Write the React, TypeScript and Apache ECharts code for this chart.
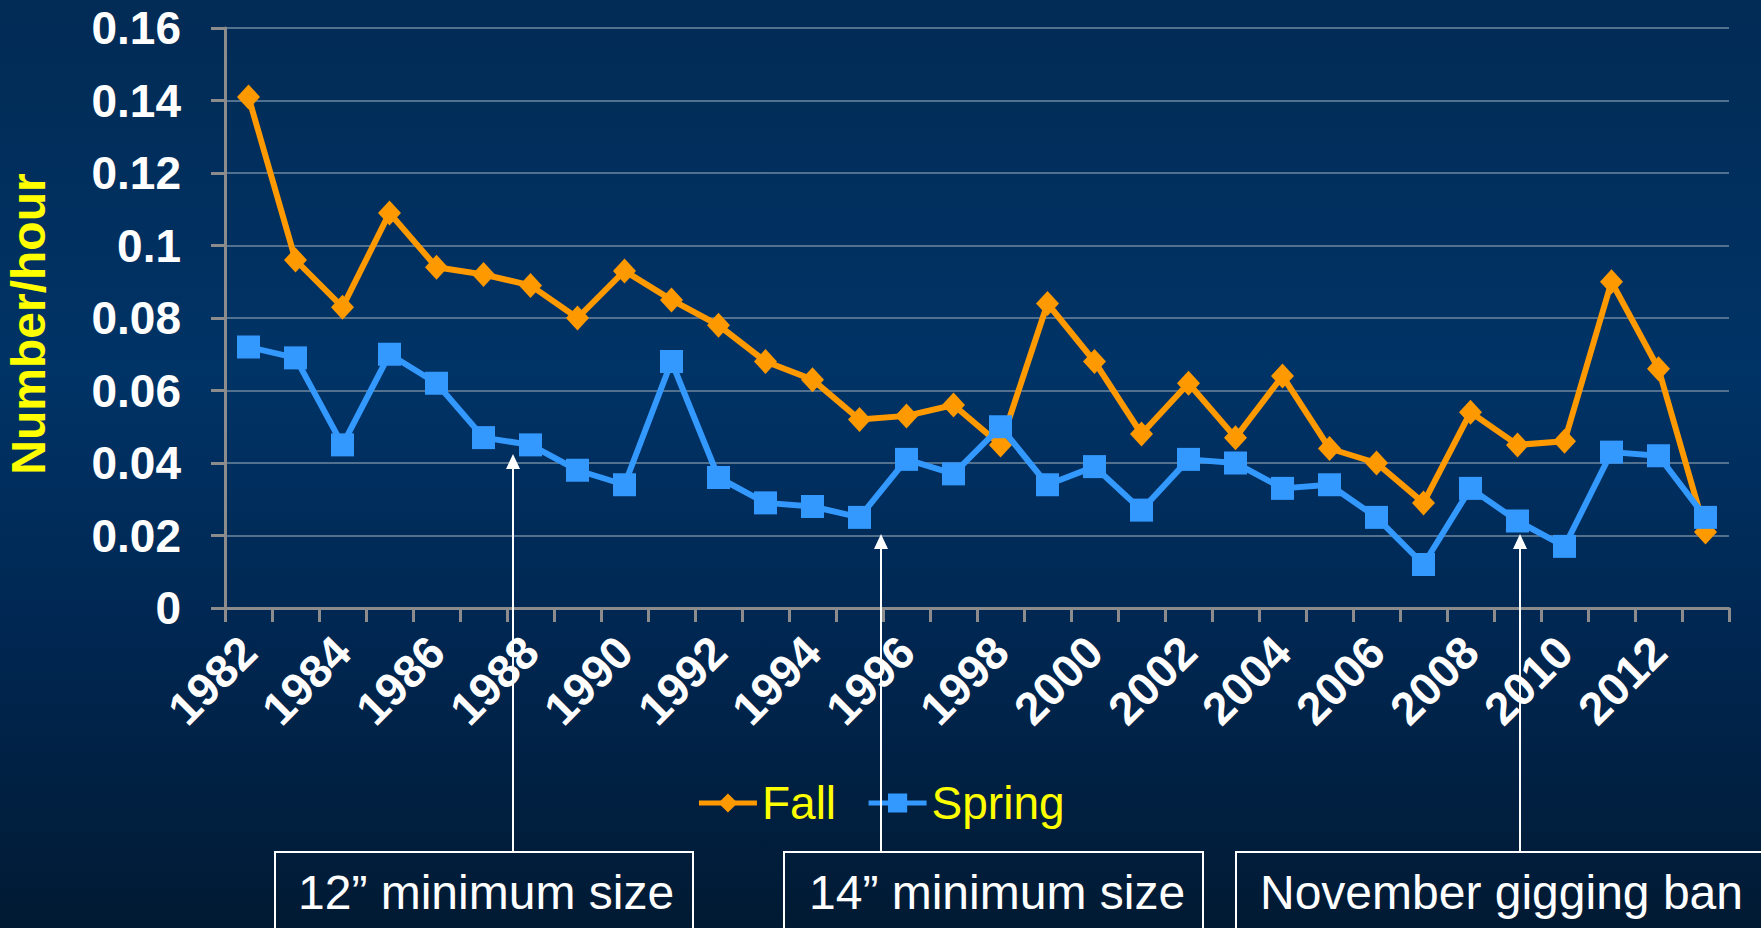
import React, { useEffect, useRef } from "react";
import * as echarts from "echarts";

const years = [
  "1982","1983","1984","1985","1986","1987","1988","1989","1990","1991",
  "1992","1993","1994","1995","1996","1997","1998","1999","2000","2001",
  "2002","2003","2004","2005","2006","2007","2008","2009","2010","2011",
  "2012","2013",
];

const fall = [
  0.141, 0.096, 0.083, 0.109, 0.094, 0.092, 0.089, 0.080, 0.093, 0.085,
  0.078, 0.068, 0.063, 0.052, 0.053, 0.056, 0.045, 0.084, 0.068, 0.048,
  0.062, 0.047, 0.064, 0.044, 0.040, 0.029, 0.054, 0.045, 0.046, 0.090,
  0.066, 0.021,
];

const spring = [
  0.072, 0.069, 0.045, 0.070, 0.062, 0.047, 0.045, 0.038, 0.034, 0.068,
  0.036, 0.029, 0.028, 0.025, 0.041, 0.037, 0.050, 0.034, 0.039, 0.027,
  0.041, 0.040, 0.033, 0.034, 0.025, 0.012, 0.033, 0.024, 0.017, 0.043,
  0.042, 0.025,
];

const annotations = ["12\u201d minimum size", "14\u201d minimum size", "November gigging ban"];

const FONT = "'Liberation Sans', Arial, Helvetica, sans-serif";

export default function App() {
  const ref = useRef<HTMLDivElement>(null);

  useEffect(() => {
    document.body.style.margin = "0";
    const chart = echarts.init(ref.current!, null, { renderer: "svg" });

    const boxes = [
      { x: 275, w: 418, tx: 298, ax: 513, ay: 454, label: annotations[0] },
      { x: 784, w: 419, tx: 809, ax: 881, ay: 534, label: annotations[1] },
      { x: 1236, w: 560, tx: 1260, ax: 1520, ay: 534, label: annotations[2] },
    ];
    const boxTop = 852;
    const graphics: any[] = [];
    boxes.forEach((b) => {
      graphics.push({
        type: "rect",
        shape: { x: b.x, y: boxTop, width: b.w, height: 120 },
        style: { fill: "transparent", stroke: "#ffffff", lineWidth: 2 },
        z: 10,
      });
      graphics.push({
        type: "text",
        x: b.tx,
        y: 892,
        style: {
          text: b.label,
          fill: "#ffffff",
          font: `48px ${FONT}`,
          verticalAlign: "middle",
          align: "left",
        },
        z: 10,
      });
      graphics.push({
        type: "line",
        shape: { x1: b.ax, y1: boxTop, x2: b.ax, y2: b.ay + 12 },
        style: { stroke: "#ffffff", lineWidth: 2 },
        z: 10,
      });
      graphics.push({
        type: "polygon",
        shape: { points: [[b.ax, b.ay], [b.ax - 7, b.ay + 15], [b.ax + 7, b.ay + 15]] },
        style: { fill: "#ffffff" },
        z: 10,
      });
    });

    chart.setOption({
      animation: false,
      backgroundColor: "transparent",
      grid: {
        left: 225,
        right: 32,
        top: 28,
        bottom: 320,
        containLabel: false,
        outerBoundsMode: "none",
      },
      legend: {
        data: ["Fall", "Spring"],
        left: "center",
        top: 775,
        itemWidth: 58,
        itemHeight: 24,
        itemGap: 30,
        lineStyle: { width: 5 },
        textStyle: { color: "#ffff00", fontSize: 46, fontFamily: FONT },
      },
      xAxis: {
        type: "category",
        data: years,
        boundaryGap: true,
        axisLine: { lineStyle: { color: "#8c8c8c", width: 3 } },
        axisTick: { show: true, interval: 0, length: 14, inside: false, lineStyle: { color: "#8c8c8c", width: 3 } },
        axisLabel: {
          interval: 1,
          rotate: 45,
          margin: 36,
          color: "#ffffff",
          fontSize: 46,
          fontWeight: "bold",
          fontFamily: FONT,
        },
        splitLine: { show: false },
      },
      yAxis: {
        type: "value",
        min: 0,
        max: 0.16,
        interval: 0.02,
        name: "Number/hour",
        nameLocation: "middle",
        nameGap: 173,
        nameRotate: 90,
        nameTextStyle: {
          color: "#ffff00",
          fontSize: 48,
          fontWeight: "bold",
          fontFamily: FONT,
          padding: [0, 12, 0, 0],
        },
        axisLine: { show: true, lineStyle: { color: "#8c8c8c", width: 3 } },
        axisTick: { show: true, length: 14, lineStyle: { color: "#8c8c8c", width: 3 } },
        axisLabel: { color: "#ffffff", fontSize: 46, fontWeight: "bold", fontFamily: FONT, margin: 44 },
        splitLine: { show: true, lineStyle: { color: "#52718f", width: 2 } },
      },
      series: [
        {
          name: "Fall",
          type: "line",
          data: fall,
          symbol: "diamond",
          symbolSize: [23, 25],
          lineStyle: { color: "#ff9900", width: 6 },
          itemStyle: { color: "#ff9900" },
          z: 2,
        },
        {
          name: "Spring",
          type: "line",
          data: spring,
          symbol: "rect",
          symbolSize: 23,
          lineStyle: { color: "#3399ff", width: 6 },
          itemStyle: { color: "#3399ff" },
          z: 3,
        },
      ],
      graphic: graphics,
    });

    return () => chart.dispose();
  }, []);

  return (
    <div
      ref={ref}
      style={{
        position: "fixed",
        left: 0,
        top: 0,
        width: 1761,
        height: 928,
        background: "linear-gradient(to bottom, #022b55 0%, #003366 40%, #002650 70%, #011a33 100%)",
      }}
    />
  );
}
